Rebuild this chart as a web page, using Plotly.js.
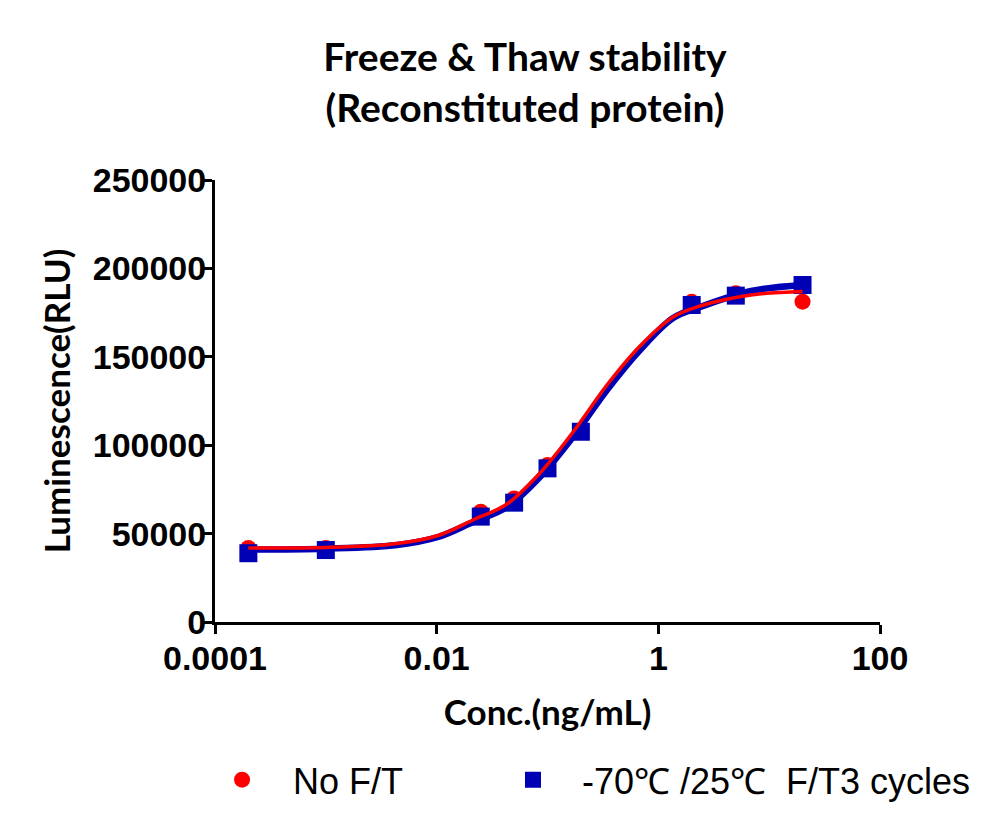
<!DOCTYPE html>
<html>
<head>
<meta charset="utf-8">
<script src="https://cdn.plot.ly/plotly-3.0.1.min.js"></script>
<style>html,body{margin:0;padding:0;background:#fff;}#chart{width:1000px;height:834px;}</style>
</head>
<body>
<div id="chart"></div>
<script>
// Measured data points
const conc = [0.0002, 0.001, 0.025, 0.05, 0.1, 0.2, 2, 5, 20];
const noFT = [41900, 41800, 62400, 69900, 88800, 108200, 181100, 185900, 181200];
const ft3 = [38900, 40700, 59600, 67500, 86900, 107600, 179300, 184600, 190600];

// Fitted curves
const curveConc = [0.0002, 0.001, 0.0044, 0.0103, 0.0213, 0.0431, 0.0855, 0.17, 0.344, 0.684, 1.36, 2.38, 6.86, 20];
const noFTFit = [41850, 42140, 44400, 48920, 57690, 66740, 84270, 107460, 134050, 156110, 172510, 178730, 184950, 186930];
const ft3Fit = [41000, 41460, 43550, 48080, 56560, 65040, 82010, 104640, 131220, 153840, 171940, 178160, 187210, 190600];

const xTickVals = [0.0001, 0.01, 1, 100];
const xTickText = ['0.0001', '0.01', '1', '100'];
const seriesNames = ['No F/T', '-70\u2103 /25\u2103  F/T3 cycles'];

const RED = '#ff0000';
const BLUE = '#0000b4';

const traces = [
  {x: conc, y: noFT, type: 'scatter', mode: 'markers', name: seriesNames[0], legend: 'legend',
   marker: {symbol: 'circle', size: 16, color: RED}},
  {x: conc, y: ft3, type: 'scatter', mode: 'markers', name: seriesNames[1], legend: 'legend2',
   marker: {symbol: 'square', size: 18, color: BLUE}},
  {x: curveConc, y: ft3Fit, type: 'scatter', mode: 'lines', showlegend: false,
   line: {color: BLUE, width: 6.5, shape: 'spline'}, hoverinfo: 'skip'},
  {x: curveConc, y: noFTFit, type: 'scatter', mode: 'lines', showlegend: false,
   line: {color: RED, width: 3.5, shape: 'spline'}, hoverinfo: 'skip'}
];

const legendFont = {family: 'Liberation Sans, Arial, sans-serif', size: 36, color: '#000'};

const layout = {
  width: 1000, height: 834,
  paper_bgcolor: '#fff', plot_bgcolor: '#fff',
  margin: {l: 215, r: 120, t: 180, b: 212},
  showlegend: true,
  title: {
    text: 'Freeze &amp; Thaw stability<br>(Reconstituted protein)',
    font: {family: 'Lato, Open Sans, sans-serif', size: 39, weight: 'bold', color: '#000'},
    x: 0.525, xanchor: 'center', xref: 'container',
    y: 1 - 71/834, yanchor: 'top', yref: 'container'
  },
  xaxis: {
    type: 'log', range: [-4, 2],
    tickvals: xTickVals, ticktext: xTickText,
    showline: true, linewidth: 3, linecolor: '#000',
    ticks: 'outside', ticklen: 9, tickwidth: 3, tickcolor: '#000',
    showgrid: false, zeroline: false, ticklabelstandoff: -5,
    tickfont: {family: 'Liberation Sans, Arial, sans-serif', size: 34, weight: 'bold', color: '#000'},
    title: {text: 'Conc.(ng/mL)', standoff: 25,
      font: {family: 'Lato, Open Sans, sans-serif', size: 35, weight: 'bold', color: '#000'}}
  },
  yaxis: {
    range: [0, 250000], dtick: 50000, tick0: 0, tickformat: 'd',
    showline: true, linewidth: 3, linecolor: '#000',
    ticks: 'outside', ticklen: 9, tickwidth: 3, tickcolor: '#000',
    showgrid: false, zeroline: false, ticklabelstandoff: -10,
    tickfont: {family: 'Liberation Sans, Arial, sans-serif', size: 34, weight: 'bold', color: '#000'},
    title: {text: 'Luminescence(RLU)', standoff: 12,
      font: {family: 'Lato, Open Sans, sans-serif', size: 35, weight: 'bold', color: '#000'}}
  },
  legend: {
    orientation: 'h', x: -0.036, xanchor: 'left', y: -0.357, yanchor: 'middle',
    font: legendFont, itemwidth: 92,
    bgcolor: 'rgba(0,0,0,0)', borderwidth: 0
  },
  legend2: {
    orientation: 'h', x: 0.4045, xanchor: 'left', y: -0.357, yanchor: 'middle',
    font: legendFont, itemwidth: 88,
    bgcolor: 'rgba(0,0,0,0)', borderwidth: 0
  }
};

Plotly.newPlot('chart', traces, layout, {displayModeBar: false, staticPlot: true});
</script>
</body>
</html>
